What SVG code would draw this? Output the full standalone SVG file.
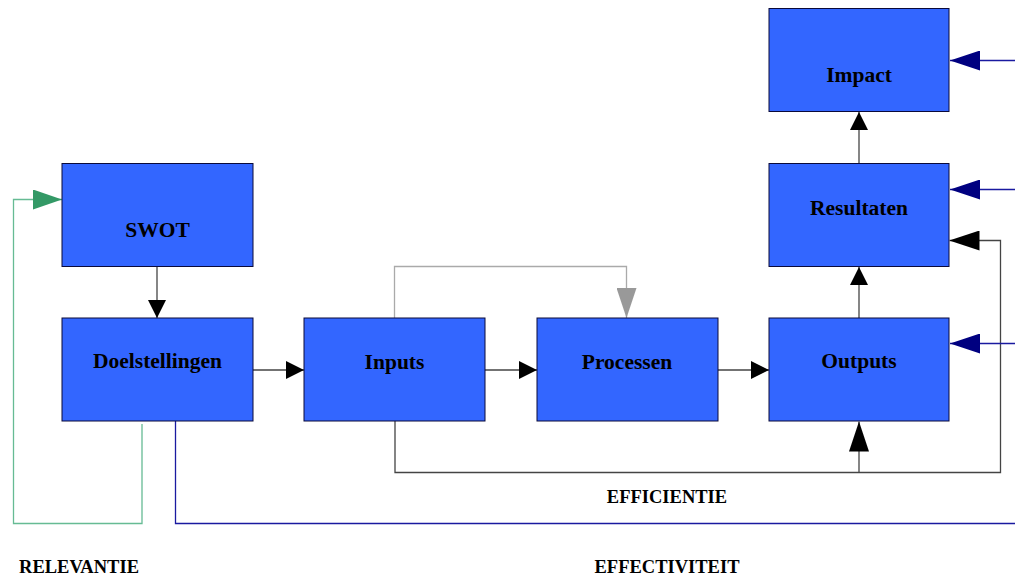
<svg xmlns="http://www.w3.org/2000/svg" width="1015" height="577" viewBox="0 0 1015 577">
<style>
.box{fill:#3366ff;stroke:#0a0a3a;stroke-width:1}
.lbl{font-family:"Liberation Serif","Times New Roman",serif;font-weight:bold;font-size:21.5px;fill:#000;text-anchor:middle}
.cap{font-family:"Liberation Serif","Times New Roman",serif;font-weight:bold;font-size:18.5px;fill:#000;text-anchor:middle}
.blk{fill:none;stroke:#444;stroke-width:1.3}
.gry{fill:none;stroke:#aaaaaa;stroke-width:1.3}
.grn{fill:none;stroke:#66bb94;stroke-width:1.3}
.nav{fill:none;stroke:#1a1aa0;stroke-width:1.3}
</style>
<defs>
<marker id="ab" markerUnits="userSpaceOnUse" viewBox="0 0 18 18" refX="18" refY="9" markerWidth="18" markerHeight="18" orient="auto"><path d="M0,0 L18,9 L0,18 z" fill="#000"/></marker>
<marker id="abl" markerUnits="userSpaceOnUse" viewBox="0 0 30 20" refX="30" refY="10" markerWidth="30" markerHeight="20" orient="auto"><path d="M0,0 L30,10 L0,20 z" fill="#000"/></marker>
<marker id="ag" markerUnits="userSpaceOnUse" viewBox="0 0 30 20" refX="30" refY="10" markerWidth="30" markerHeight="20" orient="auto"><path d="M0,0 L30,10 L0,20 z" fill="#999999"/></marker>
<marker id="an" markerUnits="userSpaceOnUse" viewBox="0 0 30 20" refX="30" refY="10" markerWidth="30" markerHeight="20" orient="auto"><path d="M0,0 L30,10 L0,20 z" fill="#000080"/></marker>
<marker id="agr" markerUnits="userSpaceOnUse" viewBox="0 0 29 20" refX="29" refY="10" markerWidth="29" markerHeight="20" orient="auto"><path d="M0,0 L29,10 L0,20 z" fill="#339966"/></marker>
</defs>

<g id="connectors">
<path class="blk" d="M157,267 V318" marker-end="url(#ab)"/>
<path class="blk" d="M253,370 H304" marker-end="url(#ab)"/>
<path class="blk" d="M485,370 H537" marker-end="url(#ab)"/>
<path class="blk" d="M718,370 H769" marker-end="url(#ab)"/>
<path class="blk" d="M859,318 V267" marker-end="url(#ab)"/>
<path class="blk" d="M859,164 V112" marker-end="url(#ab)"/>
<path class="gry" d="M394.5,318 V266.5 H626.5 V318" marker-end="url(#ag)"/>
<path class="blk" d="M395,421 V472.5 H1000.5 V240.5 H949.5" marker-end="url(#abl)"/>
<path class="blk" d="M859,472.5 V421.5" marker-end="url(#abl)"/>
<path class="nav" d="M1015,60.5 H950" marker-end="url(#an)"/>
<path class="nav" d="M1015,189.5 H950" marker-end="url(#an)"/>
<path class="nav" d="M1015,343.5 H950" marker-end="url(#an)"/>
<path class="grn" d="M142,424 V523.5 H13.5 V199.5 H62" marker-end="url(#agr)"/>
<path class="nav" d="M175.5,421 V523.5 H1015"/>
</g>

<g id="swot"><rect class="box" x="62" y="163.5" width="191" height="103"/><text class="lbl" x="157.5" y="237">SWOT</text></g>
<g id="doelstellingen"><rect class="box" x="62" y="318" width="191" height="103"/><text class="lbl" x="157.5" y="368">Doelstellingen</text></g>
<g id="inputs"><rect class="box" x="304" y="318" width="181" height="103"/><text class="lbl" x="394.5" y="369">Inputs</text></g>
<g id="processen"><rect class="box" x="537" y="318" width="181" height="103"/><text class="lbl" x="627" y="369">Processen</text></g>
<g id="outputs"><rect class="box" x="769" y="318" width="180" height="103"/><text class="lbl" x="859" y="368">Outputs</text></g>
<g id="resultaten"><rect class="box" x="769" y="163.5" width="180" height="103"/><text class="lbl" x="859" y="215">Resultaten</text></g>
<g id="impact"><rect class="box" x="769" y="8.5" width="180" height="103"/><text class="lbl" x="859" y="82">Impact</text></g>

<g id="labels">
<text class="cap" x="667" y="503">EFFICIENTIE</text>
<text class="cap" x="79" y="573">RELEVANTIE</text>
<text class="cap" x="667" y="573">EFFECTIVITEIT</text>
</g>
</svg>
